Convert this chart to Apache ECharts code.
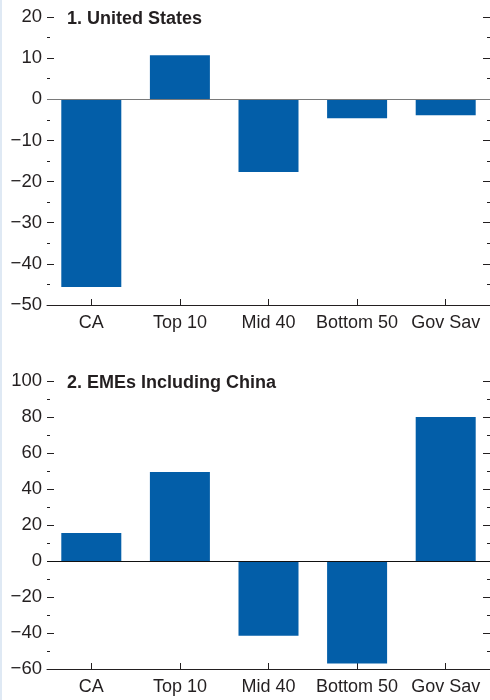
<!DOCTYPE html>
<html>
<head>
<meta charset="utf-8">
<script src="https://cdn.jsdelivr.net/npm/echarts@6/dist/echarts.min.js"></script>
<style>
html,body{margin:0;padding:0;background:#fff;}
#chart{width:490px;height:700px;position:relative;}
#strip{position:absolute;left:0;top:0;width:2px;height:700px;background:#dfe9f4;z-index:5;}
</style>
</head>
<body>
<div id="strip"></div>
<div id="chart"></div>
<script>
const categories = ['CA', 'Top 10', 'Mid 40', 'Bottom 50', 'Gov Sav'];
const usValues = [-45.6, 10.7, -17.7, -4.6, -3.9];
const emeValues = [15.6, 49.4, -41.5, -57.0, 80.0];
const titles = ['1. United States', '2. EMEs Including China'];
const usAxis = {min: -50, max: 20, interval: 10};
const emeAxis = {min: -60, max: 100, interval: 20};

const FONT = "'Liberation Sans', Arial, sans-serif";
const TXT = '#231f20';
const BAR = '#035ea8';

function fmt(v){ return v < 0 ? '\u2212' + Math.abs(v) : String(v); }

function yAx(grid, ax, right){
  return {
    type: 'value', gridIndex: grid, position: right ? 'right' : 'left',
    min: ax.min, max: ax.max, interval: ax.interval,
    axisLine: {show: false},
    axisTick: {show: true, inside: true, length: 7, lineStyle: {color: TXT, width: 1}},
    minorTick: {show: true, splitNumber: 2, length: 3, lineStyle: {color: TXT, width: 1}},
    splitLine: {show: false},
    axisLabel: {show: !right, margin: 5, fontFamily: FONT, fontSize: 18.5, color: TXT, formatter: fmt}
  };
}
function xAx(grid){
  return {
    type: 'category', gridIndex: grid, data: categories,
    axisLine: {onZero: false, lineStyle: {color: TXT, width: 1}},
    axisTick: {show: true, inside: true, alignWithLabel: true, length: 6, lineStyle: {color: TXT}},
    axisLabel: {margin: 9, fontFamily: FONT, fontSize: 18, color: TXT, interval: 0}
  };
}
function barSeries(idx, data, zeroColor){
  return {
    type: 'bar', xAxisIndex: idx, yAxisIndex: idx * 2, data: data,
    barWidth: 60, itemStyle: {color: BAR}, animation: false,
    markLine: {silent: true, symbol: ['none', 'none'], label: {show: false},
      lineStyle: {color: zeroColor, width: 1.2, type: 'solid'}, data: [{yAxis: 0}], animation: false}
  };
}

const chart = echarts.init(document.getElementById('chart'), null, {renderer: 'canvas'});
chart.setOption({
  animation: false,
  title: [
    {text: titles[0], left: 62, top: 5, textStyle: {fontFamily: FONT, fontWeight: 'bold', fontSize: 18, color: TXT}},
    {text: titles[1], left: 62, top: 369, textStyle: {fontFamily: FONT, fontWeight: 'bold', fontSize: 18, color: TXT}}
  ],
  grid: [
    {left: 47, right: 0, top: 17, height: 288},
    {left: 47, right: 0, top: 381, height: 288}
  ],
  xAxis: [xAx(0), xAx(1)],
  yAxis: [yAx(0, usAxis, false), yAx(0, usAxis, true), yAx(1, emeAxis, false), yAx(1, emeAxis, true)],
  series: [barSeries(0, usValues, '#7a7a7a'), barSeries(1, emeValues, '#111')]
});
</script>
</body>
</html>
